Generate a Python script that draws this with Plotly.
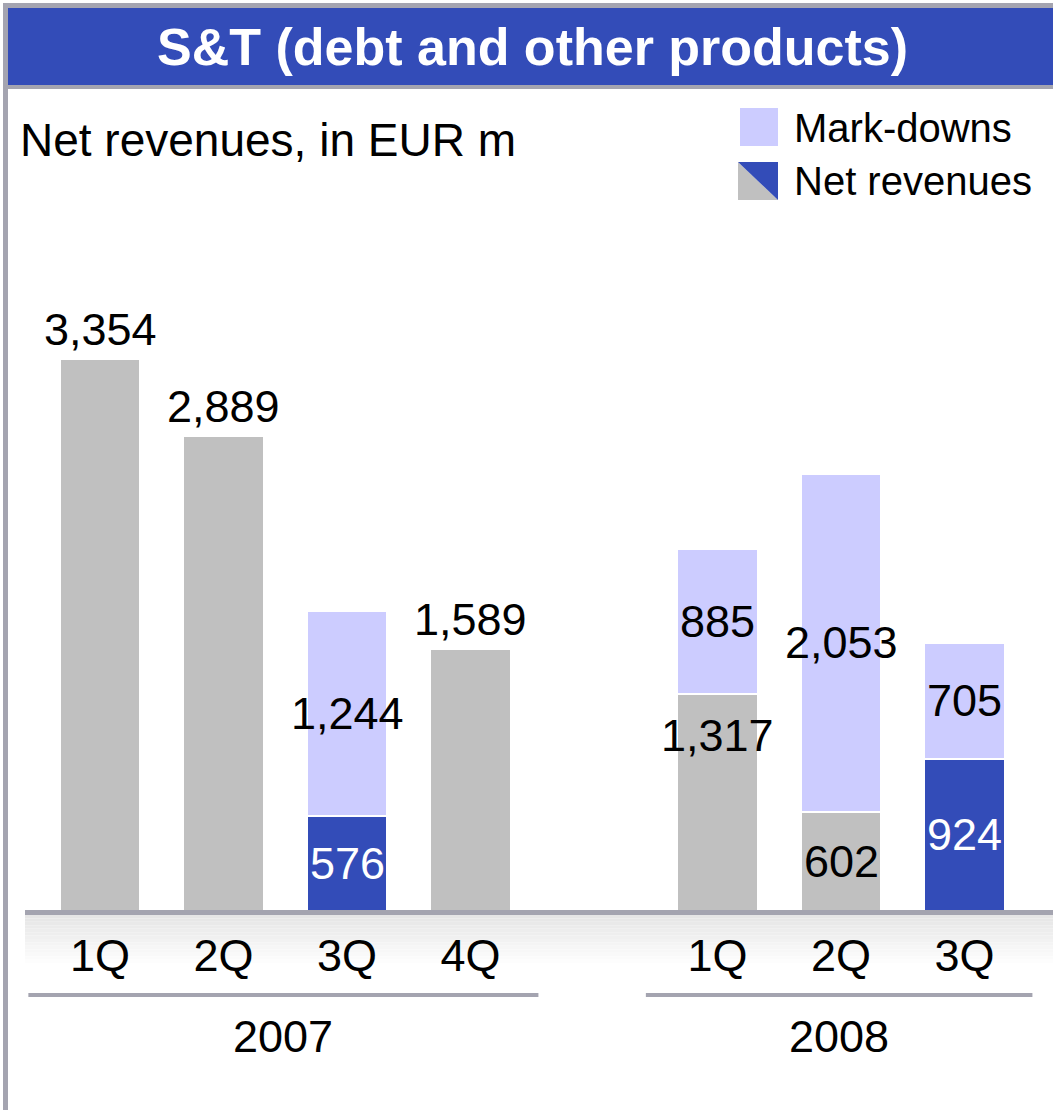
import plotly.graph_objects as go

W, H = 1053, 1110

# ---- data ----
years = ["2007", "2007", "2007", "2007", "2008", "2008", "2008"]
quarters = ["1Q", "2Q", "3Q", "4Q", "1Q", "2Q", "3Q"]
net_revenues = [3354, 2889, 576, 1589, 1317, 602, 924]
mark_downs = [None, None, 1244, None, 885, 2053, 705]

title = "S&T (debt and other products)"
subtitle = "Net revenues, in EUR m"
legend_labels = ["Mark-downs", "Net revenues"]

# ---- style ----
FONT = "Arial, 'Liberation Sans', sans-serif"
GRAY = "#C0C0C0"
BLUE = "#334CB8"
LILAC = "#CCCCFF"
RULE = "#A4A4B0"


def px_x(p):
    return p / W


def px_y(p):
    return 1 - p / H


# slot positions: one empty slot between years
pos = []
slot = 0
for i, y in enumerate(years):
    if i > 0 and y != years[i - 1]:
        slot += 1
    pos.append(slot)
    slot += 1

net_colors = [BLUE if q == "3Q" else GRAY for q in quarters]

fig = go.Figure()
fig.add_trace(go.Bar(
    x=pos, y=net_revenues, width=0.65,
    marker=dict(color=net_colors, line=dict(color="white", width=2)),
    name=legend_labels[1], hoverinfo="skip", showlegend=False,
))
fig.add_trace(go.Bar(
    x=pos, y=mark_downs, width=0.65,
    marker=dict(color=LILAC, line=dict(color="white", width=2)),
    name=legend_labels[0], hoverinfo="skip", showlegend=False,
))

annotations = []
label_font = dict(family=FONT, size=45, color="black")

# value labels
for i, (p, n, m) in enumerate(zip(pos, net_revenues, mark_downs)):
    txt_color = "white" if net_colors[i] == BLUE else "black"
    if m is None:
        annotations.append(dict(x=p, y=n, text=f"{n:,}", showarrow=False,
                                yanchor="bottom", yshift=2,
                                font=dict(label_font, color=txt_color)))
        continue
    annotations.append(dict(x=p, y=n + m / 2, text=f"{m:,}", showarrow=False,
                            yanchor="middle", font=label_font))
    if years[i] == "2008" and quarters[i] == "1Q":
        # sits near the top of its segment in the original
        annotations.append(dict(x=p, y=n, text=f"{n:,}", showarrow=False,
                                yanchor="top", yshift=-14,
                                font=dict(label_font, color=txt_color)))
    else:
        annotations.append(dict(x=p, y=n / 2, text=f"{n:,}", showarrow=False,
                                yanchor="middle",
                                font=dict(label_font, color=txt_color)))

shapes = []

# title bar with grey frame
shapes.append(dict(type="rect", xref="paper", yref="paper",
                   x0=px_x(3), x1=px_x(W), y0=px_y(89), y1=px_y(3),
                   fillcolor=RULE, line_width=0, layer="above"))
shapes.append(dict(type="rect", xref="paper", yref="paper",
                   x0=px_x(8), x1=px_x(W), y0=px_y(85), y1=px_y(8),
                   fillcolor=BLUE, line_width=0, layer="above"))
# left frame line
shapes.append(dict(type="rect", xref="paper", yref="paper",
                   x0=px_x(3), x1=px_x(8), y0=px_y(H), y1=px_y(3),
                   fillcolor=RULE, line_width=0))

# soft gradient band under the baseline (kept below the tick labels)
steps = 14
for k in range(steps):
    t = k / steps
    c = int(230 + (255 - 230) * t)
    y_top = 915 + 48 * k / steps
    y_bot = 915 + 48 * (k + 1) / steps
    shapes.append(dict(type="rect", xref="paper", yref="paper",
                       x0=px_x(25), x1=px_x(W), y0=px_y(y_bot), y1=px_y(y_top),
                       fillcolor=f"rgb({c},{c},{c})", line_width=0, layer="below"))

# baseline
shapes.append(dict(type="rect", xref="paper", yref="paper",
                   x0=px_x(25), x1=px_x(W), y0=px_y(915), y1=px_y(910),
                   fillcolor=RULE, line_width=0))

# year brackets + year labels
for yr in dict.fromkeys(years):
    ps = [p for p, y in zip(pos, years) if y == yr]
    x0, x1 = ps[0] - 0.58, ps[-1] + 0.55
    shapes.append(dict(type="rect", xref="x", yref="paper",
                       x0=x0, x1=x1, y0=px_y(997), y1=px_y(993),
                       fillcolor=RULE, line_width=0))
    annotations.append(dict(x=(x0 + x1) / 2, xref="x", y=px_y(1036), yref="paper",
                            text=yr, showarrow=False, yanchor="middle",
                            font=dict(family=FONT, size=45, color="black")))

# custom legend
shapes.append(dict(type="rect", xref="paper", yref="paper",
                   x0=px_x(740), x1=px_x(778), y0=px_y(146), y1=px_y(108),
                   fillcolor=LILAC, line_width=0))
lx0, lx1, ly0, ly1 = px_x(738), px_x(778), px_y(200), px_y(162)
shapes.append(dict(type="path", xref="paper", yref="paper",
                   path=f"M {lx0},{ly1} L {lx0},{ly0} L {lx1},{ly0} Z",
                   fillcolor=GRAY, line_width=0))
shapes.append(dict(type="path", xref="paper", yref="paper",
                   path=f"M {lx0},{ly1} L {lx1},{ly1} L {lx1},{ly0} Z",
                   fillcolor=BLUE, line_width=0))
for txt, yc in zip(legend_labels, [128, 181]):
    annotations.append(dict(x=px_x(792), y=px_y(yc), xref="paper", yref="paper",
                            text=txt, showarrow=False, xanchor="left", yanchor="middle",
                            font=dict(family=FONT, size=40, color="black")))

# title and subtitle
annotations.append(dict(x=px_x(532), y=px_y(47), xref="paper", yref="paper",
                        text=f"<b>{title}</b>", showarrow=False,
                        xanchor="center", yanchor="middle",
                        font=dict(family=FONT, size=52, color="white")))
annotations.append(dict(x=px_x(18), y=px_y(140), xref="paper", yref="paper",
                        text=subtitle, showarrow=False,
                        xanchor="left", yanchor="middle",
                        font=dict(family=FONT, size=46, color="black")))

step = 123.5
fig.update_layout(
    template="none",
    width=W, height=H,
    margin=dict(l=0, r=0, t=0, b=0),
    paper_bgcolor="white", plot_bgcolor="white",
    barmode="stack",
    showlegend=False,
    font=dict(family=FONT, color="black"),
    shapes=shapes,
    annotations=annotations,
    xaxis=dict(
        range=[-100 / step, (W - 100) / step],
        tickvals=pos, ticktext=quarters,
        tickfont=dict(family=FONT, size=45, color="black"),
        ticks="outside", ticklen=5, tickcolor="rgba(0,0,0,0)",
        showline=False, zeroline=False, showgrid=False,
        automargin=False, fixedrange=True,
    ),
    yaxis=dict(
        domain=[1 - 911 / H, 1 - 100 / H],
        range=[0, 811 / (552 / 3354)],
        visible=False, showgrid=False, zeroline=False,
        automargin=False, fixedrange=True,
    ),
)

# drop the browser's default page margin so the figure sits at the top-left corner
fig.write_html("out.html", config={"displayModeBar": False},
               post_script="document.body.style.margin='0';")
